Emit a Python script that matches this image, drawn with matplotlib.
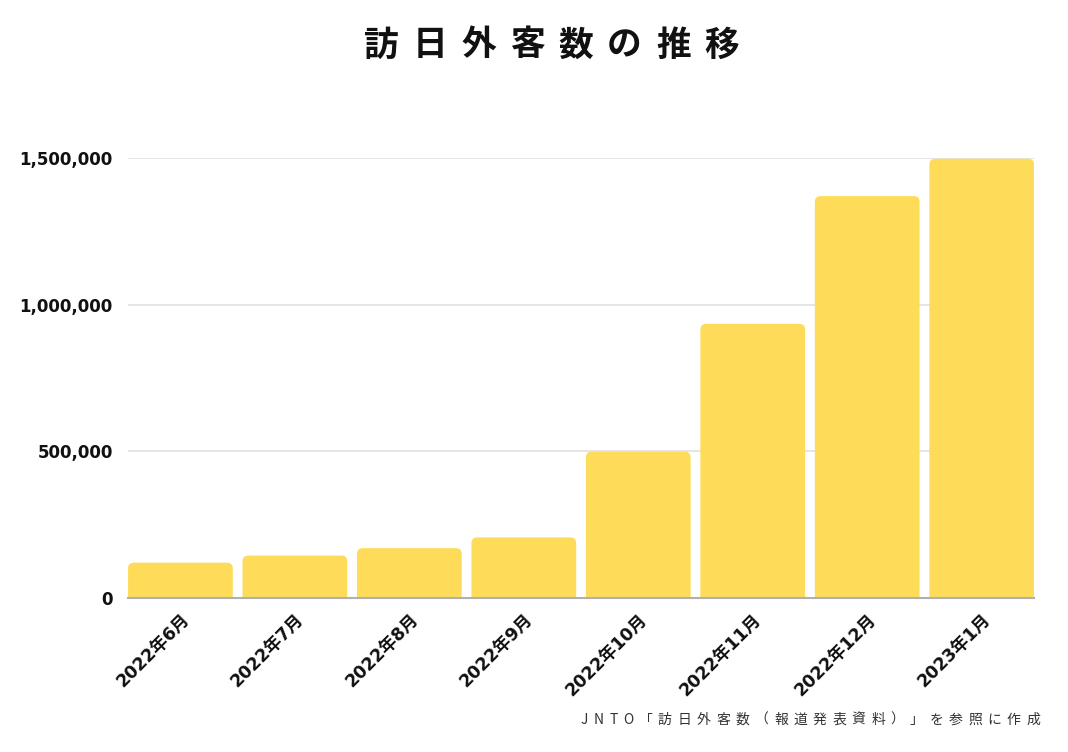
import matplotlib
matplotlib.use("Agg")
import matplotlib.pyplot as plt
from matplotlib.patches import FancyBboxPatch
from matplotlib.ticker import FuncFormatter

plt.rcParams['font.family'] = ['Noto Sans CJK JP', 'DejaVu Sans']

# データ
months = ["2022年6月", "2022年7月", "2022年8月", "2022年9月",
          "2022年10月", "2022年11月", "2022年12月", "2023年1月"]
visitors = [120400, 144500, 169900, 206600, 498600, 934500, 1370100, 1497300]
yticks = [0, 500000, 1000000, 1500000]
title = "訪日外客数の推移"
caption = "JNTO「訪日外客数（報道発表資料）」を参照に作成"

bar_color = "#FEDC5A"
W, H = 1068, 752

fig = plt.figure(figsize=(W / 100, H / 100), dpi=100)
ax = fig.add_axes([0.1199, 0.2048, 0.8483, 0.5851])

x = list(range(len(months)))
bars = ax.bar(x, visitors, width=0.915, color=bar_color)

# 角丸の棒に置き換え（下端は軸の外に伸ばして角を隠す）
for b in bars:
    b.set_visible(False)
    r = FancyBboxPatch((b.get_x(), -60000), b.get_width(), b.get_height() + 60000,
                       boxstyle="round,pad=0,rounding_size=0.05",
                       mutation_aspect=390000, facecolor=bar_color,
                       edgecolor="none", clip_on=True, zorder=2)
    ax.add_patch(r)

ax.set_xlim(-0.4575, len(months) - 1 + 0.4575)
ax.set_ylim(0, 1500000)
ax.set_yticks(yticks)
ax.yaxis.set_major_formatter(FuncFormatter(lambda v, p: f"{int(v):,}"))
ax.grid(axis="y", color="#e0e0e0", linewidth=1.2, zorder=0)
ax.set_axisbelow(True)

for s in ["top", "right", "left"]:
    ax.spines[s].set_visible(False)
ax.spines["bottom"].set_color("#b0b0b0")
ax.spines["bottom"].set_linewidth(1.5)
ax.spines["bottom"].set_zorder(3)

tick_fam = ['DejaVu Sans', 'Noto Sans CJK JP']
ax.tick_params(axis="both", length=0)
ax.tick_params(axis="y", pad=11)
ax.tick_params(axis="x", pad=9)
for lab in ax.get_yticklabels():
    lab.set_family(tick_fam)
    lab.set_fontweight("bold")
    lab.set_fontsize(12)
    lab.set_color("#111111")

ax.set_xticks(x)
ax.set_xticklabels(months, rotation=45, ha="right", rotation_mode="anchor",
                   fontsize=12.5, fontweight="bold", color="#111111",
                   family=tick_fam)

# タイトル（字間を広げるため1文字ずつ配置）
x0, pitch = 381, 48.7
for i, ch in enumerate(title):
    fig.text((x0 + i * pitch) / W, 1 - 45 / H, ch, ha="center", va="center",
             fontsize=25, fontweight="bold", color="#111111")

# 出典（字間あり、右寄せ）
renderer = fig.canvas.get_renderer()
track = 5.5
parts = []
for ch in caption:
    t = fig.text(0, 1 - 720 / H, ch, ha="left", va="center",
                 fontsize=10, color="#333333")
    parts.append((t, t.get_window_extent(renderer).width))
total = sum(w for _, w in parts) + track * (len(parts) - 1)
pos = 1040 - total
for t, w in parts:
    t.set_x(pos / W)
    pos += w + track

fig.savefig("out.png", dpi=100)
